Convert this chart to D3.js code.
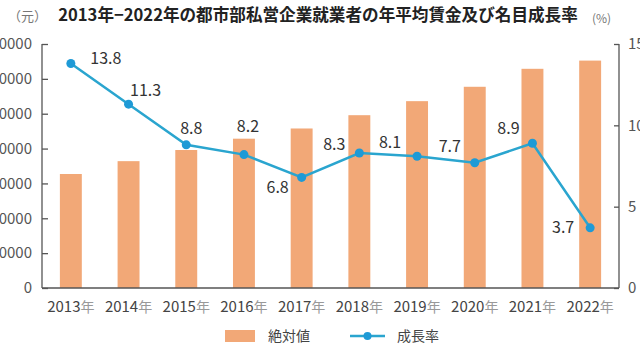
<!DOCTYPE html>
<html><head><meta charset="utf-8">
<script src="https://cdn.jsdelivr.net/npm/d3@7"></script>
<style>
html,body{margin:0;padding:0;background:#fff;overflow:hidden}
text{font-family:"Noto Sans CJK JP","Noto Sans",sans-serif}
</style></head>
<body><svg id="c" width="640" height="360"></svg>
<script>
const years = ["2013年","2014年","2015年","2016年","2017年","2018年","2019年","2020年","2021年","2022年"];
const wages = [32706,36390,39589,42833,45761,49575,53604,57727,62884,65237];
const rates = [13.8,11.3,8.8,8.2,6.8,8.3,8.1,7.7,8.9,3.7];
const leftTicks = [0,10000,20000,30000,40000,50000,60000,70000];
const rightTicks = [0,5,10,15];
const title = "2013年−2022年の都市部私営企業就業者の年平均賃金及び名目成長率";
const legendLabels = ["絶対値","成長率"];
// label offsets (layout only)
const labelDx = [35,17,5,4,-24,-25,-27,-25,-24,-27];
const labelDy = [-5,-14,-16,-28,10,-9,-14,-16,-15,0];

const svg = d3.select("#c");
const L = 42, R = 619, T = 44, B = 288;
const barColor = "#F2A877", lineColor = "#2AA5CF", dotColor = "#1E9AD6";

const x = d3.scaleBand().domain(years).range([L, R]).paddingInner(0).paddingOuter(0);
const yL = d3.scaleLinear().domain([0,70000]).range([B, T]);
const yR = d3.scaleLinear().domain([0,15]).range([B, T]);
const bw = x.bandwidth()*0.38;

// bars
svg.append("g").selectAll("rect").data(wages).join("rect")
  .attr("x",(d,i)=>x(years[i])+x.bandwidth()/2-bw/2)
  .attr("y",d=>yL(d)).attr("width",bw).attr("height",d=>B-yL(d))
  .attr("fill",barColor);

// axes
const axL = svg.append("g").attr("transform",`translate(${L},0)`)
  .call(d3.axisRight(yL).tickValues(leftTicks).tickSize(6).tickFormat(""));
axL.selectAll("path,line").attr("stroke","#555").attr("stroke-width",1.3);
axL.select(".domain").attr("d",`M0,${T}V${B}`);
svg.append("g").selectAll("text").data(leftTicks).join("text")
  .attr("x",32).attr("y",d=>yL(d)).attr("dy","0.35em").attr("text-anchor","end")
  .attr("font-size",15).attr("fill","#555").text(d=>d);

const axR = svg.append("g").attr("transform",`translate(${R},0)`)
  .call(d3.axisLeft(yR).tickValues(rightTicks).tickSize(5).tickFormat(""));
axR.selectAll("path,line").attr("stroke","#555").attr("stroke-width",1.3);
axR.select(".domain").attr("d",`M0,${T}V${B}`);
svg.append("g").selectAll("text").data(rightTicks).join("text")
  .attr("x",628).attr("y",d=>yR(d)).attr("dy","0.35em").attr("text-anchor","start")
  .attr("font-size",15).attr("fill","#555").text(d=>d);

svg.append("line").attr("x1",L).attr("x2",R).attr("y1",B).attr("y2",B)
  .attr("stroke","#555").attr("stroke-width",1.5);

// x labels
const xl = svg.append("g").selectAll("text").data(years).join("text")
  .attr("x",d=>x(d)+x.bandwidth()/2).attr("y",312).attr("text-anchor","middle")
  .attr("font-size",15).attr("fill","#444");
xl.append("tspan").text(d=>d.slice(0,4));
xl.append("tspan").attr("fill","#999").attr("font-size",14).text(d=>d.slice(4));

// line
const cx = i=>x(years[i])+x.bandwidth()/2;
svg.append("path").datum(rates)
  .attr("d",d3.line().x((d,i)=>cx(i)).y(d=>yR(d)))
  .attr("fill","none").attr("stroke",lineColor).attr("stroke-width",2.5);
svg.append("g").selectAll("circle").data(rates).join("circle")
  .attr("cx",(d,i)=>cx(i)).attr("cy",d=>yR(d)).attr("r",4.5).attr("fill",dotColor);
svg.append("g").selectAll("text").data(rates).join("text")
  .attr("x",(d,i)=>cx(i)+labelDx[i]).attr("y",(d,i)=>yR(d)+labelDy[i])
  .attr("text-anchor","middle").attr("dy","0.35em")
  .attr("font-size",16).attr("fill","#333").text(d=>d.toFixed(1));

// title
svg.append("text").attr("x",318).attr("y",21).attr("text-anchor","middle")
  .attr("font-size",16.6).attr("font-weight","bold").attr("fill","#222").text(title);
svg.append("text").attr("x",8).attr("y",21).attr("font-size",13).attr("fill","#777").text("（元）");
svg.append("text").attr("x",592).attr("y",23).attr("font-size",12).attr("fill","#777").text("(%)");

// legend
svg.append("rect").attr("x",225).attr("y",330).attr("width",30).attr("height",12).attr("fill",barColor);
svg.append("text").attr("x",268).attr("y",336).attr("dy","0.35em").attr("font-size",14).attr("fill","#444").text(legendLabels[0]);
svg.append("line").attr("x1",350).attr("x2",385).attr("y1",336).attr("y2",336).attr("stroke",lineColor).attr("stroke-width",2.5);
svg.append("circle").attr("cx",367.5).attr("cy",336).attr("r",4).attr("fill",dotColor);
svg.append("text").attr("x",397).attr("y",336).attr("dy","0.35em").attr("font-size",14).attr("fill","#444").text(legendLabels[1]);
</script></body></html>
